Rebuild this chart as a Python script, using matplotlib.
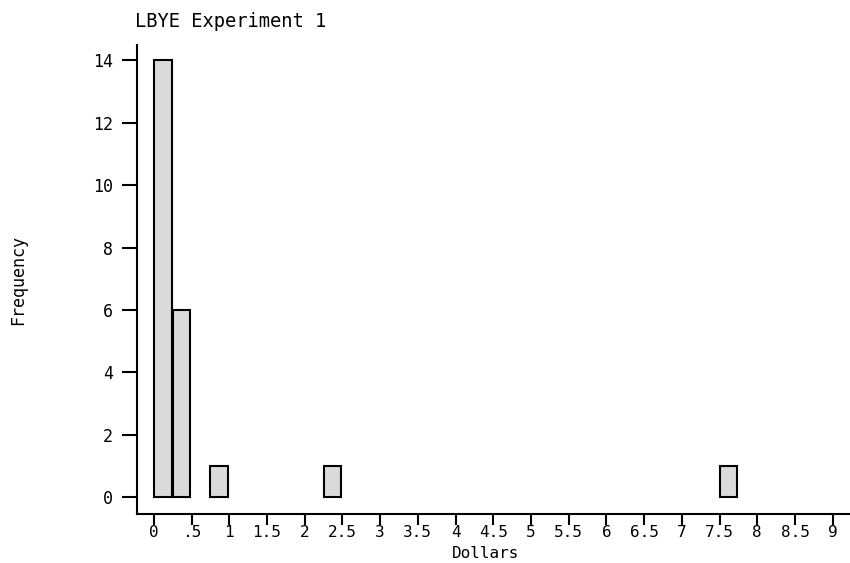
import matplotlib
matplotlib.use('Agg')
import matplotlib.pyplot as plt

# histogram of dollar amounts, bin width .25
bin_left = [0.0, 0.25, 0.75, 2.25, 7.5]
freq = [14, 6, 1, 1, 1]
x_ticks = [0, 0.5, 1, 1.5, 2, 2.5, 3, 3.5, 4, 4.5, 5, 5.5, 6, 6.5, 7, 7.5, 8, 8.5, 9]
x_ticklabels = ['0', '.5', '1', '1.5', '2', '2.5', '3', '3.5', '4', '4.5',
                '5', '5.5', '6', '6.5', '7', '7.5', '8', '8.5', '9']
y_ticks = [0, 2, 4, 6, 8, 10, 12, 14]

plt.rcParams['font.family'] = ['DejaVu Sans Mono']

fig = plt.figure(figsize=(8.5, 5.63), dpi=100)
ax = fig.add_axes([0.161, 0.087, 0.839, 0.833])

ax.bar(bin_left, freq, width=0.235, align='edge', color='#dadada',
       edgecolor='black', linewidth=1.5)

ax.set_xlim(-0.225, 9.23)
ax.set_ylim(-0.54, 14.49)
ax.set_xticks(x_ticks)
ax.set_xticklabels(x_ticklabels)
ax.set_yticks(y_ticks)
ax.tick_params(axis='both', labelsize=12, width=1.5, direction='out')
ax.tick_params(axis='y', length=11, pad=6)
ax.tick_params(axis='x', length=8, pad=0, labelsize=11.5)

for s in ['top', 'right']:
    ax.spines[s].set_visible(False)
for s in ['left', 'bottom']:
    ax.spines[s].set_linewidth(1.5)

fig.text(0.159, 0.962, 'LBYE Experiment 1', fontsize=13.5, ha='left', va='center')
fig.text(0.571, 0.016, 'Dollars', fontsize=11.5, ha='center', va='center')
fig.text(0.021, 0.502, 'Frequency', fontsize=12, rotation=90, ha='center', va='center')

fig.savefig('out.png', dpi=100)
